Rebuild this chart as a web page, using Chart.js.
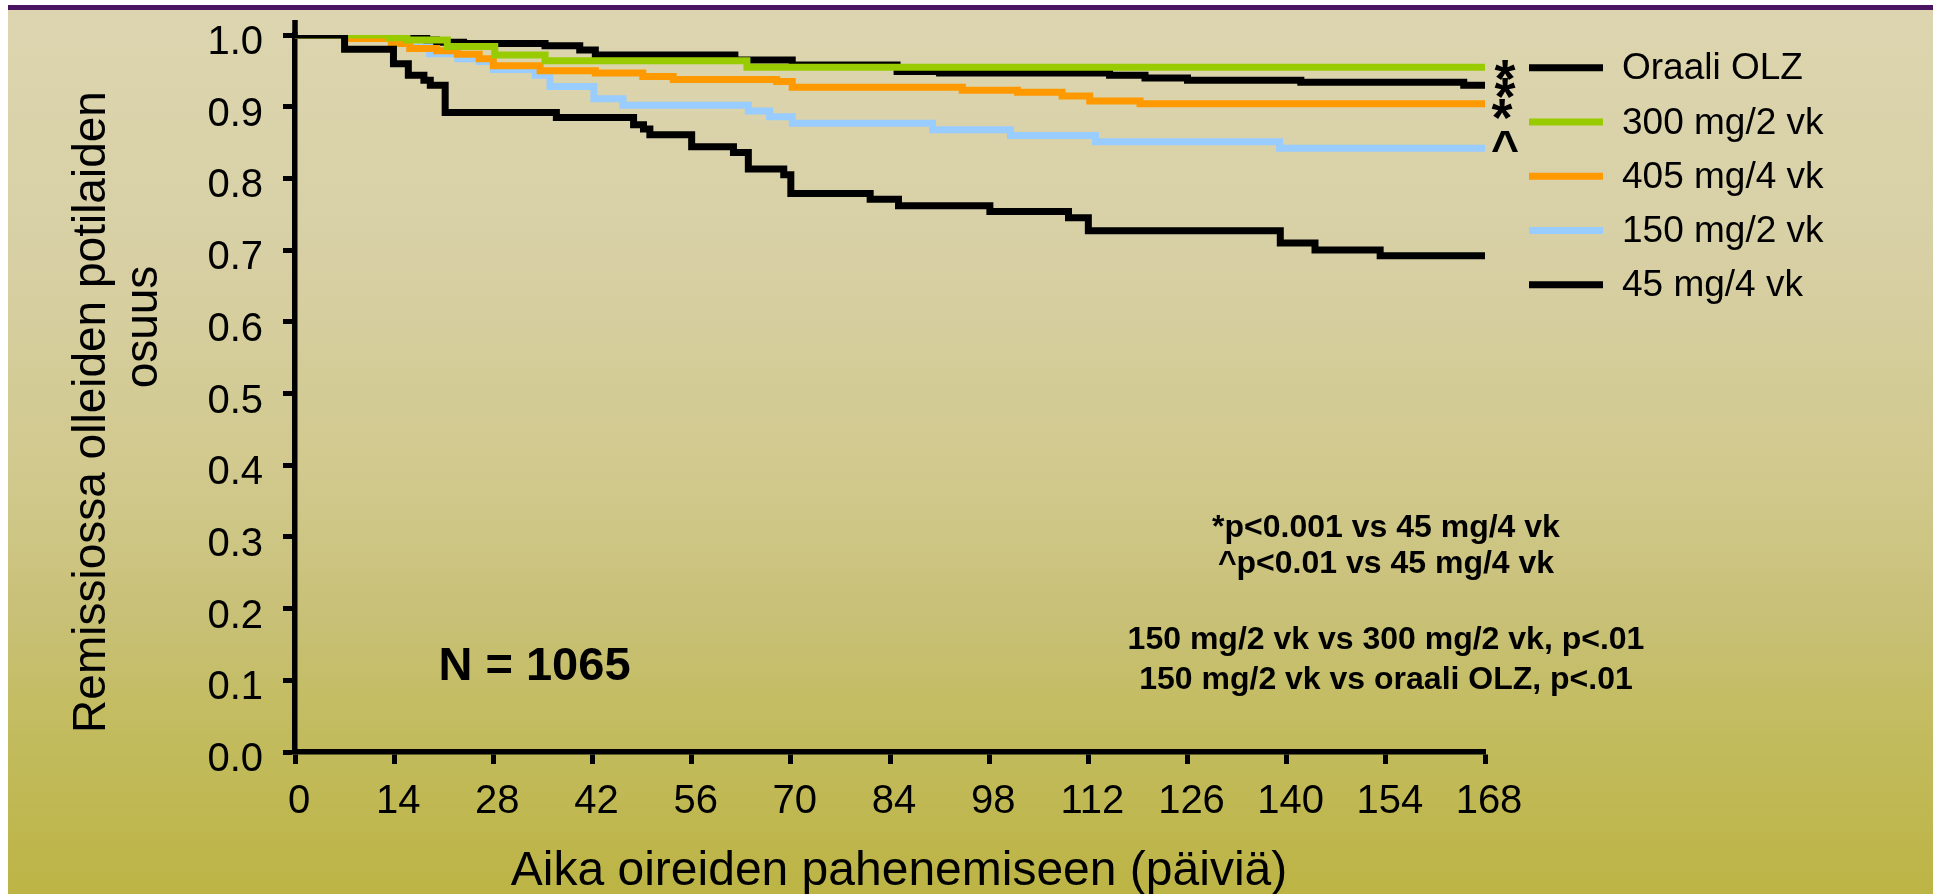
<!DOCTYPE html>
<html lang="fi">
<head>
<meta charset="UTF-8">
<title>Remissiossa olleiden potilaiden osuus</title>
<script src="https://cdn.jsdelivr.net/npm/chart.js"></script>
<style>
  html, body { margin: 0; padding: 0; background: #fff; overflow: hidden; }
  canvas { display: block; }
</style>
</head>
<body>
<canvas id="kmChart" width="1933" height="894"></canvas>
<script>
// legend order
var seriesLabels = ['Oraali OLZ', '300 mg/2 vk', '405 mg/4 vk', '150 mg/2 vk', '45 mg/4 vk'];
var seriesColors = ['#000000', '#99cc00', '#ff9900', '#99ccff', '#000000'];
var seriesMarks = ['*', '*', '*', '^', ''];

// step times (days) and share still in remission after each step
var olzDays = [0, 13.4, 18.6, 20, 23.8, 35.3, 40.2, 42.4, 62.1, 70.2, 85, 91, 115, 120, 126, 142, 165, 168];
var olzSurv = [1.0, 0.996, 0.993, 0.990, 0.988, 0.985, 0.979, 0.972, 0.965, 0.958, 0.949, 0.947, 0.944, 0.940, 0.937, 0.934, 0.930, 0.930];

var d300Days = [0, 13.2, 15.8, 21.5, 28.2, 35.3, 63.8, 168];
var d300Surv = [1.0, 0.996, 0.993, 0.984, 0.972, 0.964, 0.955, 0.955];

var d405Days = [0, 7, 13.6, 16.2, 20, 22.9, 26, 28, 34.6, 42.4, 49.1, 53.4, 68, 70.2, 94.2, 102, 108.3, 112.2, 119.3, 168];
var d405Surv = [1.0, 0.995, 0.988, 0.981, 0.978, 0.973, 0.967, 0.957, 0.950, 0.947, 0.942, 0.938, 0.935, 0.927, 0.923, 0.920, 0.915, 0.908, 0.904, 0.904];

var d150Days = [0, 7, 13.6, 16.2, 19, 23, 26, 28, 33.9, 36, 42.2, 46.3, 64, 67, 70.2, 90, 101, 113, 139, 168];
var d150Surv = [1.0, 0.996, 0.990, 0.983, 0.974, 0.967, 0.963, 0.952, 0.944, 0.928, 0.911, 0.902, 0.894, 0.886, 0.877, 0.868, 0.860, 0.851, 0.842, 0.842];

var d45Days = [0, 7, 13.9, 16, 18.2, 19.1, 21.2, 36.9, 47.8, 49.2, 50.1, 56, 61.9, 64, 69, 70, 81.2, 85.2, 98.1, 109.2, 112, 139.1, 144, 153.2, 168];
var d45Surv = [1.0, 0.980, 0.960, 0.944, 0.937, 0.930, 0.892, 0.885, 0.875, 0.869, 0.861, 0.844, 0.836, 0.813, 0.805, 0.779, 0.771, 0.762, 0.754, 0.745, 0.727, 0.710, 0.700, 0.692, 0.692];

var dayTicks = [0, 14, 28, 42, 56, 70, 84, 98, 112, 126, 140, 154, 168];
var shareTicks = [0.0, 0.1, 0.2, 0.3, 0.4, 0.5, 0.6, 0.7, 0.8, 0.9, 1.0];

var xTitle = 'Aika oireiden pahenemiseen (päiviä)';
var yTitleLines = ['Remissiossa olleiden potilaiden', 'osuus'];
var notes = ['*p<0.001 vs 45 mg/4 vk', '^p<0.01 vs 45 mg/4 vk', '150 mg/2 vk vs 300 mg/2 vk, p<.01', '150 mg/2 vk vs oraali OLZ, p<.01'];
var sampleSize = 'N = 1065';

var FONT = "'Liberation Sans', Arial, sans-serif";
Chart.defaults.font.family = FONT;
Chart.defaults.color = '#000';

function steps(days, surv) {
    return days.map(function (d, i) { return { x: d, y: surv[i] }; });
}

var allDays = [olzDays, d300Days, d405Days, d150Days, d45Days];
var allSurv = [olzSurv, d300Surv, d405Surv, d150Surv, d45Surv];
var drawOrder = [4, 1, 2, 3, 0]; // 45 mg on top, oral OLZ at the bottom

var datasets = seriesLabels.map(function (label, i) {
    return {
        label: label,
        data: steps(allDays[i], allSurv[i]),
        borderColor: seriesColors[i],
        backgroundColor: seriesColors[i],
        borderWidth: 7,
        stepped: true,
        pointRadius: 0,
        fill: false,
        order: drawOrder[i]
    };
});

// page background: white margin, purple rule, khaki-to-olive gradient
var backdrop = {
    id: 'backdrop',
    beforeDraw: function (chart) {
        var ctx = chart.ctx, w = chart.width, h = chart.height;
        ctx.save();
        ctx.fillStyle = '#ffffff';
        ctx.fillRect(0, 0, w, h);
        var g = ctx.createLinearGradient(0, 10, 0, h);
        g.addColorStop(0, '#dcd5af');
        g.addColorStop(0.27, '#d8d0a5');
        g.addColorStop(0.55, '#d0c88a');
        g.addColorStop(0.69, '#c8c076');
        g.addColorStop(0.78, '#c4bd64');
        g.addColorStop(1, '#bcb444');
        ctx.fillStyle = g;
        ctx.fillRect(8, 10, w - 8, h - 10);
        ctx.fillStyle = '#4a1560';
        ctx.fillRect(8, 5, w - 8, 5);
        ctx.restore();
    }
};

// vertical middle of the capitals on cy
function capsText(ctx, text, x, cy) {
    var cap = ctx.measureText('H').actualBoundingBoxAscent;
    ctx.fillText(text, x, cy + cap / 2);
}

// vertical middle of the glyph itself on cy
function glyphText(ctx, text, x, cy) {
    var m = ctx.measureText(text);
    ctx.fillText(text, x, cy + (m.actualBoundingBoxAscent - m.actualBoundingBoxDescent) / 2);
}

var extras = {
    id: 'extras',
    afterDraw: function (chart) {
        var ctx = chart.ctx;
        var area = chart.chartArea;
        var ys = chart.scales.y;
        ctx.save();

        // y axis runs a little past 1.0
        ctx.strokeStyle = '#000';
        ctx.lineWidth = 5.5;
        ctx.beginPath();
        ctx.moveTo(area.left, area.top - 15);
        ctx.lineTo(area.left, area.top);
        ctx.stroke();

        ctx.fillStyle = '#000';
        ctx.textBaseline = 'alphabetic';

        // x axis title
        ctx.font = '48px ' + FONT;
        ctx.textAlign = 'center';
        ctx.fillText(xTitle, 899, 885);

        // y axis title, two rotated lines
        ctx.font = '46px ' + FONT;
        var titlePos = [[105, 412], [157, 327]];
        yTitleLines.forEach(function (line, i) {
            ctx.save();
            ctx.translate(titlePos[i][0], titlePos[i][1]);
            ctx.rotate(-Math.PI / 2);
            ctx.fillText(line, 0, 0);
            ctx.restore();
        });

        // legend
        ctx.textAlign = 'left';
        ctx.font = '37px ' + FONT;
        chart.data.datasets.forEach(function (ds, i) {
            var y = 66.3 + i * 54.25;
            ctx.strokeStyle = ds.borderColor;
            ctx.lineWidth = 7;
            ctx.beginPath();
            ctx.moveTo(1529, y + 1.5);
            ctx.lineTo(1603, y + 1.5);
            ctx.stroke();
            capsText(ctx, ds.label, 1622, y);
        });

        // significance marks at the curve ends
        var markShift = [3, 3, 6, -6.5, 0];
        var markX = [1505, 1505, 1502, 1505, 0];
        ctx.textAlign = 'center';
        chart.data.datasets.forEach(function (ds, i) {
            if (!seriesMarks[i]) return;
            var last = ds.data[ds.data.length - 1];
            ctx.font = (seriesMarks[i] === '*' ? 'bold 54px ' : 'bold 48px ') + FONT;
            glyphText(ctx, seriesMarks[i], markX[i], ys.getPixelForValue(last.y) + markShift[i]);
        });

        // notes
        ctx.font = 'bold 32px ' + FONT;
        var noteY = [526.3, 561.7, 638.3, 678.3];
        notes.forEach(function (t, i) { capsText(ctx, t, 1386, noteY[i]); });

        ctx.font = 'bold 47px ' + FONT;
        capsText(ctx, sampleSize, 534.5, 663.5);

        ctx.restore();
    }
};

var tickGrid = { drawOnChartArea: false, drawTicks: true, tickLength: 12, tickWidth: 5, tickColor: '#000', color: '#000' };

new Chart(document.getElementById('kmChart'), {
    type: 'line',
    data: { datasets: datasets },
    options: {
        responsive: false,
        animation: false,
        events: [],
        layout: { padding: { left: 0, top: 35, right: 1933 - 1485, bottom: 0 } },
        plugins: {
            legend: { display: false },
            tooltip: { enabled: false }
        },
        scales: {
            x: {
                type: 'linear',
                min: 0,
                max: 168,
                afterFit: function (s) { s.height = 894 - 752; s.paddingLeft = 0; s.paddingRight = 0; },
                afterBuildTicks: function (s) { s.ticks = dayTicks.map(function (v) { return { value: v }; }); },
                border: { display: true, color: '#000', width: 5.5 },
                grid: tickGrid,
                ticks: { font: { size: 40 }, color: '#000', padding: 14, labelOffset: 4, maxRotation: 0, autoSkip: false }
            },
            y: {
                type: 'linear',
                min: 0,
                max: 1,
                afterFit: function (s) { s.width = 295; s.paddingTop = 0; s.paddingBottom = 0; },
                afterBuildTicks: function (s) { s.ticks = shareTicks.map(function (v) { return { value: v }; }); },
                border: { display: true, color: '#000', width: 5.5 },
                grid: tickGrid,
                ticks: {
                    font: { size: 40 }, color: '#000', padding: 20, labelOffset: 8, autoSkip: false,
                    callback: function (v) { return Number(v).toFixed(1); }
                }
            }
        }
    },
    plugins: [backdrop, extras]
});
</script>
</body>
</html>
